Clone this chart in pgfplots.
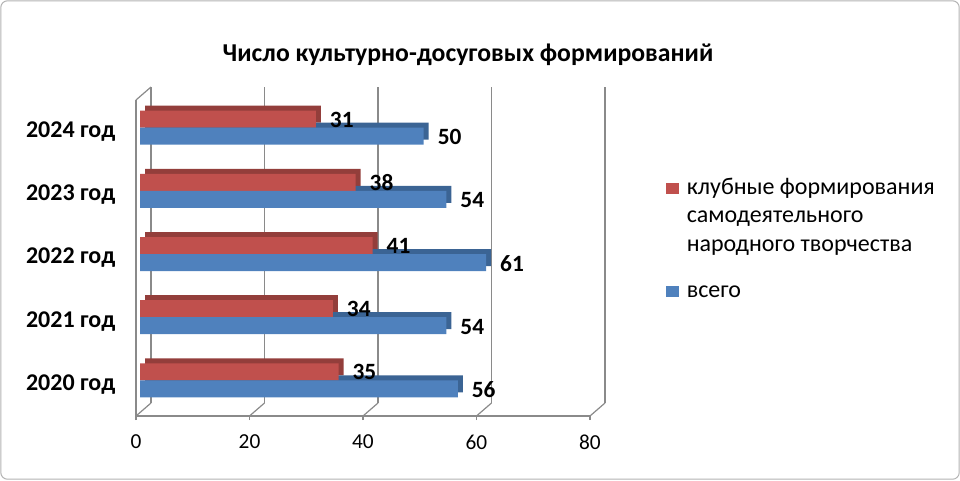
\documentclass[border=0pt]{standalone}
\usepackage{fontspec}
\setmainfont{Carlito}
\usepackage{pgfplots}
\pgfplotsset{compat=1.18}
\definecolor{redf}{HTML}{C0504D}
\definecolor{redd}{HTML}{933E3B}
\definecolor{bluef}{HTML}{4F81BD}
\definecolor{blued}{HTML}{3B6494}
\definecolor{gridc}{HTML}{8A8A8A}
\pgfplotsset{
  base/.style={scale only axis, width=340.5pt, height=237pt,
    xmin=0, xmax=80, ymin=-0.5, ymax=4.5, anchor=south west, clip=false},
}
\begin{document}
\begin{tikzpicture}
\path[use as bounding box] (0,0) rectangle (720pt,360pt);
\draw[rounded corners=5pt, color=gray!60, line width=0.75pt] (0.6pt,0.6pt) rectangle (719.4pt,359.4pt);
\node[font=\bfseries\fontsize{19.3}{23}\selectfont, anchor=base, inner sep=0pt] at (351pt,314.25pt) {Число культурно-досуговых формирований};

% back wall grid
\begin{axis}[base, at={(113.25pt,57.75pt)},
  axis line style={draw=none}, xtick={0,20,40,60,80}, xticklabels={}, ytick=\empty,
  xmajorgrids, major grid style={color=gridc, line width=0.9pt}, tick style={draw=none}]
\addplot[draw=none] coordinates {(0,0)};
\end{axis}

% front frame
\begin{axis}[base, at={(102pt,48pt)},
  axis x line*=bottom, axis y line*=left,
  axis line style={gridc, line width=0.9pt, -},
  xtick={0,20,40,60,80}, ytick={0,1,2,3,4},
  yticklabels={2020 год,2021 год,2022 год,2023 год,2024 год},
  y tick style={draw=none}, x tick style={gridc, line width=0.9pt},
  tick align=outside, major tick length=3pt,
  /pgf/number format/assume math mode=true,
  xticklabel style={font=\fontsize{16}{19}\selectfont, yshift=-7.5pt},
  yticklabel style={font=\bfseries\fontsize{18}{21}\selectfont, xshift=-9pt}]
\pgfplotsinvokeforeach{0,20,40,60,80}{\draw[gridc, line width=0.9pt] (axis cs:#1,-0.5) -- ++(11.25pt,9.75pt);}
\draw[gridc, line width=0.9pt] (axis cs:0,4.5) -- ++(11.25pt,9.75pt);
\addplot[draw=none] coordinates {(0,0)};
\end{axis}

% bar depth faces
\begin{axis}[base, at={(108.75pt,54.75pt)}, hide axis]
\addplot[xbar, bar width=0.269, bar shift=0.1345, fill=redd, draw=none]
  coordinates {(35,0) (34,1) (41,2) (38,3) (31,4)};
\addplot[xbar, bar width=0.269, bar shift=-0.1345, fill=blued, draw=none]
  coordinates {(56,0) (54,1) (61,2) (54,3) (50,4)};
\end{axis}

% bar front faces
\begin{axis}[base, at={(105pt,51pt)}, hide axis,
  point meta=x,
  /pgf/number format/assume math mode=true,
  nodes near coords,
  every node near coord/.append style={font=\bfseries\fontsize{17.5}{21}\selectfont, anchor=west, xshift=7pt, color=black},
  legend cell align=left,
  legend style={draw=none, fill=none, at={(rel axis cs:1.15,0.76)}, anchor=north west,
    cells={anchor=base west}, row sep=0pt,
    nodes={font=\fontsize{18}{21}\selectfont, inner ysep=0pt}},
  legend image code/.code={\fill[#1] (0pt,0pt) rectangle (9.75pt,8.4pt); \path (13.3pt,0pt);}]
\addplot[xbar, bar width=0.269, bar shift=0.1345, fill=redf, draw=none,
  every node near coord/.append style={yshift=6pt}]
  coordinates {(35,0) (34,1) (41,2) (38,3) (31,4)};
\addlegendentry{\rule{0pt}{14.7pt}клубные формирования}
\addlegendimage{empty legend}
\addlegendentry{\rule{0pt}{19.9pt}самодеятельного}
\addlegendimage{empty legend}
\addlegendentry{\rule{0pt}{19.9pt}народного творчества}
\addplot[xbar, bar width=0.269, bar shift=-0.1345, fill=bluef, draw=none,
  every node near coord/.append style={yshift=-7pt}]
  coordinates {(56,0) (54,1) (61,2) (54,3) (50,4)};
\addlegendentry{\rule{0pt}{32.7pt}всего}
\end{axis}
\end{tikzpicture}
\end{document}
